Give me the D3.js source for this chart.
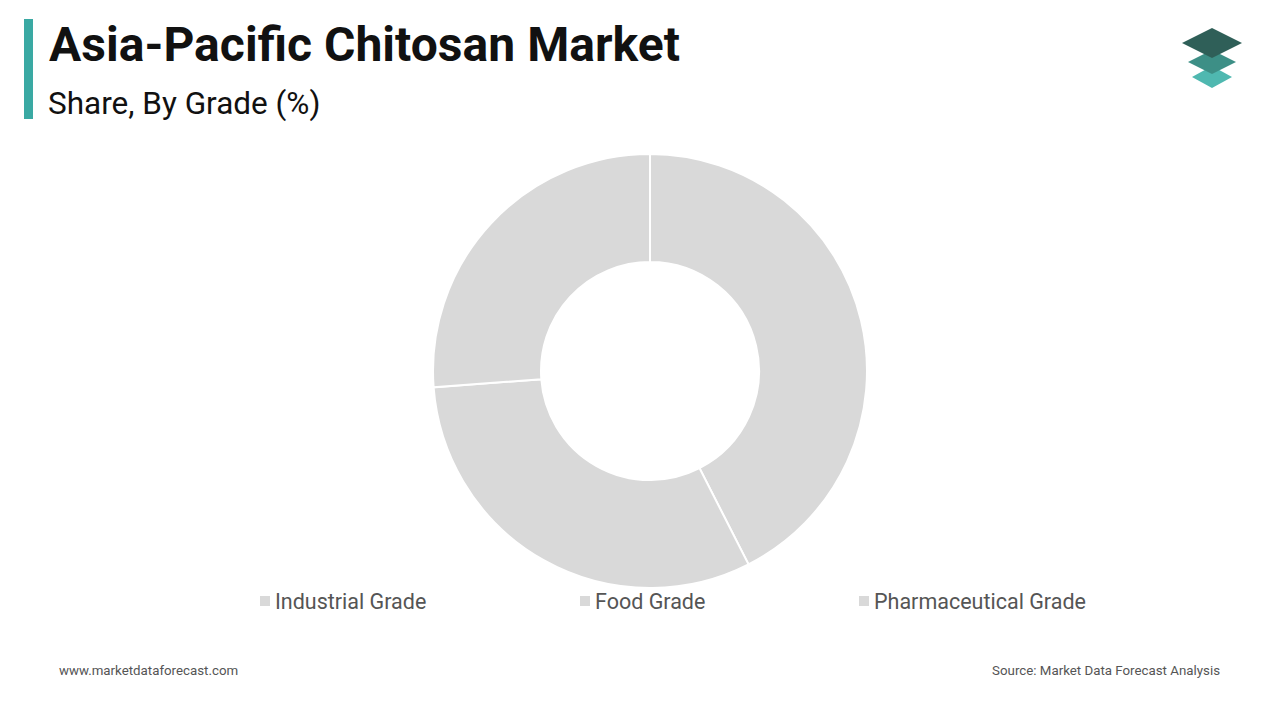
<!DOCTYPE html>
<html><head><meta charset="utf-8">
<script src="https://cdn.jsdelivr.net/npm/d3@7"></script>
<style>body{margin:0;background:#fff;font-family:Roboto,sans-serif}</style>
</head><body>
<svg id="chart" width="1280" height="720"></svg>
<script>
const categories = ["Industrial Grade", "Food Grade", "Pharmaceutical Grade"];
const shares = [42.5, 31.3, 26.2];

const svg = d3.select("#chart");

// title block
svg.append("rect").attr("x", 24).attr("y", 19).attr("width", 9).attr("height", 100).attr("fill", "#3aa9a3");
svg.append("text").attr("x", 49).attr("y", 61).attr("font-size", 48).attr("font-weight", 700)
    .attr("fill", "#111").attr("textLength", 631).text("Asia-Pacific Chitosan Market");
svg.append("text").attr("x", 48).attr("y", 114).attr("font-size", 31.5).attr("fill", "#111")
    .text("Share, By Grade (%)");

// logo
const logo = svg.append("g").attr("transform", "translate(1212,0)");
[[77, "#4fb8b0", 20, 11], [62, "#3d8f86", 24, 12], [43, "#2f5f58", 30, 15]].forEach(([y, c, w, h]) => {
    logo.append("path").attr("d", `M0,${y - h} L${w},${y} L0,${y + h} L${-w},${y} Z`).attr("fill", c);
});

// donut
const cx = 650, cy = 371;
const pie = d3.pie().sort(null).value(d => d);
const arc = d3.arc().innerRadius(109).outerRadius(217);
svg.append("g").attr("transform", `translate(${cx},${cy})`)
    .selectAll("path").data(pie(shares)).join("path")
    .attr("d", arc).attr("fill", "#d9d9d9").attr("stroke", "#fff").attr("stroke-width", 2);

// legend
const legendX = d3.scaleOrdinal().domain(categories).range([260, 580, 859]);
const lg = svg.append("g").selectAll("g").data(categories).join("g")
    .attr("transform", d => `translate(${legendX(d)},601)`);
lg.append("rect").attr("x", 0).attr("y", -5).attr("width", 10).attr("height", 10).attr("fill", "#d9d9d9");
lg.append("text").attr("x", 15).attr("y", 7.5).attr("font-size", 21.5).attr("fill", "#555").text(d => d);

// footer
svg.append("text").attr("x", 59).attr("y", 675).attr("font-size", 13.3).attr("fill", "#555").text("www.marketdataforecast.com");
svg.append("text").attr("x", 1220).attr("y", 675).attr("font-size", 13.3).attr("fill", "#555")
    .attr("text-anchor", "end").text("Source: Market Data Forecast Analysis");
</script>
</body></html>
